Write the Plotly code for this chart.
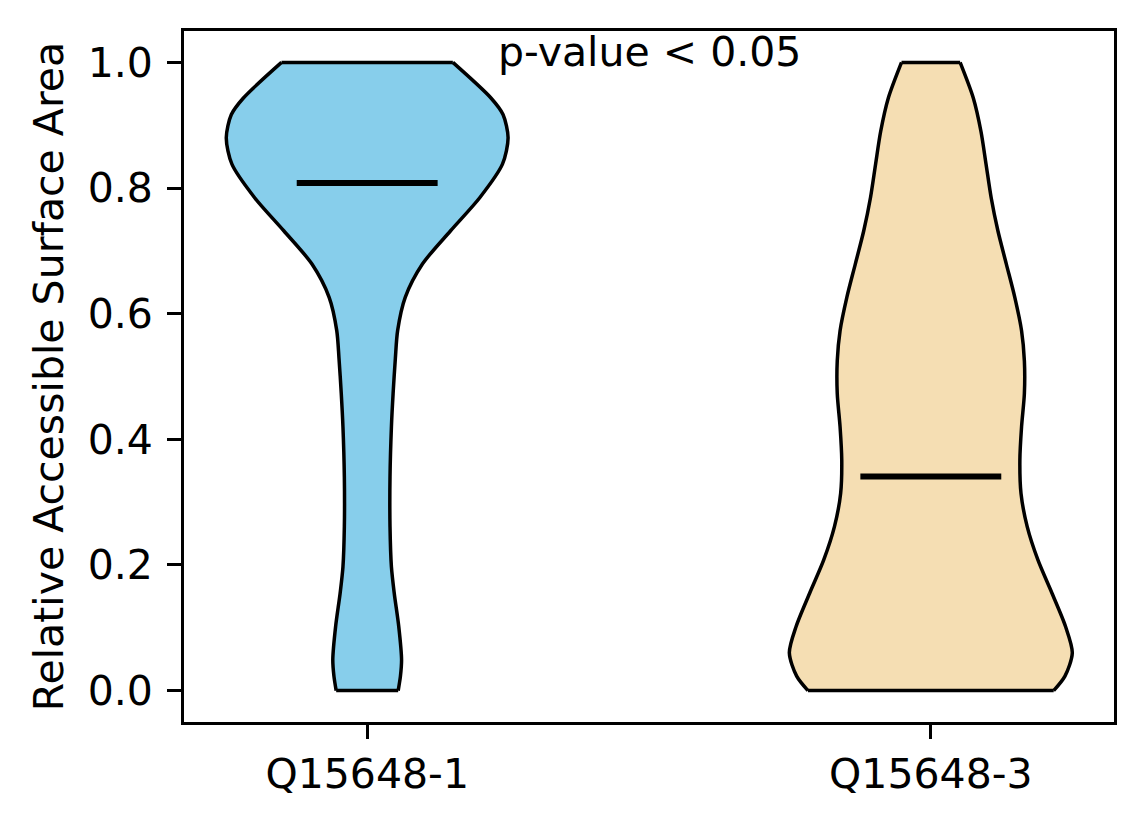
import plotly.graph_objects as go

# violin outline: RSA level -> half width of the density (x units)
labels = ['Q15648-1', 'Q15648-3']
colors = ['#87CEEB', '#F5DEB3']

rsa_q1 = [0.000, 0.023, 0.049, 0.102, 0.155, 0.197, 0.261, 0.340, 0.420, 0.473,
          0.529, 0.573, 0.626, 0.679, 0.732, 0.785, 0.838, 0.880, 0.917, 0.943, 1.000]
half_q1 = [0.055, 0.059, 0.061, 0.056, 0.048, 0.043, 0.0405, 0.0405, 0.043, 0.046,
           0.050, 0.054, 0.0675, 0.098, 0.148, 0.200, 0.240, 0.250, 0.241, 0.220, 0.152]

rsa_q3 = [0.000, 0.023, 0.060, 0.102, 0.155, 0.208, 0.261, 0.314, 0.367, 0.420, 0.473,
          0.525, 0.573, 0.626, 0.679, 0.732, 0.785, 0.838, 0.890, 0.943, 1.000]
half_q3 = [0.218, 0.238, 0.251, 0.239, 0.215, 0.190, 0.171, 0.160, 0.158, 0.161, 0.166,
           0.166, 0.161, 0.149, 0.134, 0.119, 0.107, 0.098, 0.089, 0.0755, 0.052]

medians = [0.808, 0.341]

fig = go.Figure()

edge = dict(color='black', width=3.5, shape='spline', smoothing=0.8)
profiles = [(rsa_q1, half_q1), (rsa_q3, half_q3)]
for i, (rsa, half) in enumerate(profiles):
    pos = i + 1
    # left edge, then right edge filled back to it
    fig.add_trace(go.Scatter(x=[pos - h for h in half], y=rsa, mode='lines',
                             line=edge, hoverinfo='skip', showlegend=False))
    fig.add_trace(go.Scatter(x=[pos + h for h in half], y=rsa, mode='lines',
                             line=edge, fill='tonextx', fillcolor=colors[i],
                             hoverinfo='skip', showlegend=False))
    # flat ends at min and max
    fig.add_trace(go.Scatter(x=[pos - half[0], pos + half[0], None, pos - half[-1], pos + half[-1]],
                             y=[rsa[0], rsa[0], None, rsa[-1], rsa[-1]], mode='lines',
                             line=dict(color='black', width=3.5), hoverinfo='skip',
                             showlegend=False))
    fig.add_trace(go.Scatter(x=[pos - 0.125, pos + 0.125], y=[medians[i], medians[i]],
                             mode='lines', line=dict(color='black', width=6),
                             showlegend=False))

fig.add_annotation(x=1.5, y=1.0, xref='x', yref='y', text='p-value < 0.05',
                   showarrow=False, yanchor='middle', yshift=10,
                   font=dict(size=41, color='black'))

axis_style = dict(showline=True, mirror=True, linecolor='black', linewidth=2.8,
                  ticks='outside', ticklen=14, tickwidth=3, tickcolor='black',
                  showgrid=False, zeroline=False,
                  tickfont=dict(size=41, color='black'))

fig.update_xaxes(range=[0.675, 2.325], tickvals=[1, 2], ticktext=labels, **axis_style)
fig.update_yaxes(range=[-0.05, 1.05], tickvals=[0, 0.2, 0.4, 0.6, 0.8, 1.0],
                 tickformat='.1f', ticklabelstandoff=6,
                 title=dict(text='Relative Accessible Surface Area',
                            font=dict(size=41, color='black'), standoff=12),
                 **axis_style)

fig.update_layout(width=1144, height=824,
                  margin=dict(l=176, r=38, t=23, b=110),
                  plot_bgcolor='white', paper_bgcolor='white',
                  font=dict(family='DejaVu Sans', color='black'))

fig.write_html('out.html')
